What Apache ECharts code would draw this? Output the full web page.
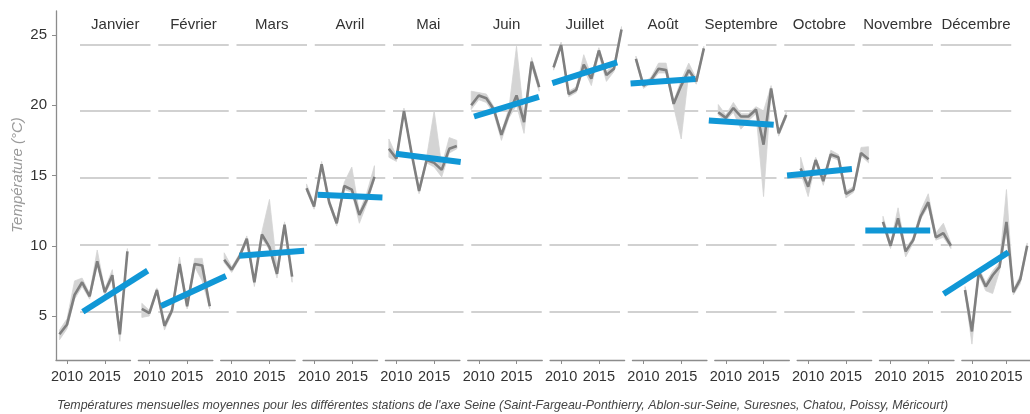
<!DOCTYPE html>
<html>
<head>
<meta charset="utf-8">
<script src="https://cdn.jsdelivr.net/npm/echarts@6/dist/echarts.min.js"></script>
<style>
html,body{margin:0;padding:0;background:#fff;}
#chart{width:1030px;height:414px;}
</style>
</head>
<body>
<div id="chart"></div>
<script>
const months = ['Janvier','Février','Mars','Avril','Mai','Juin','Juillet','Août','Septembre','Octobre','Novembre','Décembre'];
const years = [2009,2010,2011,2012,2013,2014,2015,2016,2017,2018];
const yTicks = [5,10,15,20,25];
const xTicks = [2010,2015];

const meanT = [
  [3.7,4.4,6.5,7.4,6.4,8.9,6.7,7.9,3.7,9.6],
  [5.5,5.2,6.85,4.3,5.4,8.7,5.7,8.7,8.6,5.7],
  [9.0,8.3,9.2,10.5,7.4,10.8,9.9,8.0,11.5,7.8],
  [14.1,12.8,15.8,13.1,11.6,14.25,14.0,12.2,13.3,14.9],
  [16.9,16.2,19.6,16.6,13.9,16.1,15.9,15.4,16.9,17.1],
  [20.0,20.7,20.5,19.7,17.9,19.4,20.7,18.8,23.1,21.3],
  [22.7,24.3,20.8,21.1,22.9,21.9,23.9,22.15,22.6,25.4],
  [23.3,21.4,21.8,22.6,22.5,20.1,21.4,22.5,21.7,24.05],
  [19.5,19.1,19.8,19.2,19.2,19.7,17.2,21.2,18.0,19.3],
  [15.5,14.2,16.1,14.6,16.5,16.3,13.7,14.0,16.6,16.15],
  [11.7,10.0,11.95,9.6,10.4,12.1,13.1,10.6,10.9,10.0],
  [6.85,3.9,8.15,7.1,7.9,8.5,11.7,6.7,7.6,10.0]
];
const minT = [
  [3.3,4.1,6.2,7.1,6.2,8.6,6.5,7.6,3.2,9.5],
  [4.9,5.0,6.7,4.0,5.2,8.4,5.5,8.5,7.5,5.5],
  [8.8,8.1,9.0,10.3,7.1,10.5,9.7,7.7,11.0,7.4],
  [13.9,12.6,15.6,12.9,11.4,14.0,13.8,11.6,13.0,14.7],
  [16.3,16.0,19.4,16.4,13.7,15.9,15.6,14.9,16.6,16.9],
  [19.7,20.4,20.2,19.4,17.5,19.1,20.0,18.0,22.8,21.0],
  [22.5,24.1,20.6,20.9,22.6,21.4,23.6,21.7,22.4,25.2],
  [23.1,21.2,21.6,22.3,22.3,19.9,17.6,22.3,21.5,23.9],
  [19.3,18.9,19.5,18.3,18.9,19.4,13.5,21.0,17.8,19.1],
  [15.2,13.5,15.9,14.3,16.3,16.1,13.4,13.8,16.4,15.9],
  [11.5,9.8,11.7,9.2,10.2,11.9,12.8,10.4,10.6,9.8],
  [6.6,3.0,7.9,6.8,6.6,8.2,11.0,6.5,7.3,9.8]
];
const maxT = [
  [4.0,4.8,7.5,7.7,6.6,9.7,6.9,8.3,3.9,9.8],
  [5.9,5.4,7.0,4.5,5.6,9.2,5.9,9.1,9.1,5.8],
  [9.5,8.5,9.4,10.7,7.6,11.0,13.3,8.4,11.7,8.0],
  [14.4,13.0,16.0,13.3,11.8,14.5,15.6,12.4,13.8,15.7],
  [17.6,16.4,19.8,16.8,14.1,16.3,19.6,15.7,17.7,17.5],
  [21.0,20.9,20.8,19.9,18.1,19.8,24.2,19.1,23.4,21.6],
  [22.9,24.5,21.0,21.3,23.6,22.1,24.1,22.4,22.9,25.6],
  [23.5,21.6,22.0,23.0,23.0,20.3,21.8,23.0,21.9,24.2],
  [20.05,19.3,20.2,19.4,19.4,19.9,19.6,21.4,18.2,19.5],
  [16.3,14.4,16.3,14.8,16.8,16.5,13.9,14.2,17.0,17.05],
  [12.1,10.2,12.7,9.8,10.6,12.5,13.7,10.9,11.6,10.2],
  [7.1,4.3,8.4,7.4,8.2,8.8,14.0,6.9,7.9,10.2]
];
const trendStart = [5.0,5.43,9.19,13.74,16.81,19.6,22.1,22.06,19.3,15.19,11.07,6.33];
const trendEnd   = [8.07,7.67,9.55,13.54,16.19,21.06,23.65,22.4,18.98,15.67,11.07,9.45];

const FONT = 'Liberation Sans';
const grids = [], xAxes = [], yAxes = [], series = [];

function bandRender(params, api) {
  if (params.dataIndexInside !== 0) return null;
  const n = params.dataInsideLength;
  const upper = [], lower = [];
  for (let k = 0; k < n; k++) {
    upper.push(api.coord([api.value(0, k), api.value(2, k)]));
    lower.push(api.coord([api.value(0, k), api.value(1, k)]));
  }
  return {
    type: 'polygon',
    shape: {points: upper.concat(lower.reverse())},
    style: {fill: '#d4d4d4', stroke: '#d4d4d4', lineWidth: 0.8}
  };
}

for (let i = 0; i < 12; i++) {
  grids.push({left: 56 + i * 82.35, top: 11, width: 74.5, height: 349});
  const gd = grids.length - 1;
  xAxes.push({
    type: 'value', gridIndex: gd, min: 2008.54, max: 2018.41,
    axisLine: {show: true, lineStyle: {color: '#8c8c8c', width: 1.3}},
    axisTick: {show: true, customValues: xTicks, length: 4, lineStyle: {color: '#8c8c8c'}},
    axisLabel: {show: true, customValues: xTicks, formatter: v => String(v), hideOverlap: false,
                showMinLabel: true, showMaxLabel: true,
                color: '#333', fontFamily: FONT, fontSize: 14.5, margin: 9},
    splitLine: {show: false}
  });
  yAxes.push({
    type: 'value', gridIndex: gd, min: 1.868, max: 26.71,
    axisLine: {show: i === 0, lineStyle: {color: '#8c8c8c', width: 1.3}},
    axisTick: {show: i === 0, customValues: yTicks, length: 4, lineStyle: {color: '#8c8c8c'}},
    axisLabel: {show: i === 0, customValues: yTicks, color: '#333', fontFamily: FONT, fontSize: 15, margin: 9},
    splitLine: {show: false}
  });
  grids.push({left: 80 + i * 78.25, top: 44.3, width: 70.5, height: 267.4});
  const gc = grids.length - 1;
  xAxes.push({
    type: 'value', gridIndex: gc, min: 0, max: 1, position: 'top',
    name: months[i], nameLocation: 'middle', nameGap: 12,
    nameTextStyle: {color: '#333', fontFamily: FONT, fontSize: 15},
    axisLine: {show: false}, axisTick: {show: false}, axisLabel: {show: false}, splitLine: {show: false}
  });
  yAxes.push({
    type: 'value', gridIndex: gc, min: 5, max: 25, interval: 5,
    axisLine: {show: false}, axisTick: {show: false}, axisLabel: {show: false},
    splitLine: {show: true, lineStyle: {color: '#c2c2c2', width: 1.5}}
  });

  series.push({
    type: 'custom', xAxisIndex: gd, yAxisIndex: gd,
    data: years.map((y, k) => [y, minT[i][k], maxT[i][k]]),
    renderItem: bandRender, silent: true, z: 1, clip: true
  });
  series.push({
    type: 'line', xAxisIndex: gd, yAxisIndex: gd,
    data: years.map((y, k) => [y, meanT[i][k]]),
    symbol: 'none', lineStyle: {color: '#7f7f7f', width: 2.6}, z: 3
  });
  series.push({
    type: 'line', xAxisIndex: gc, yAxisIndex: gc,
    data: [[0.04, trendStart[i]], [0.96, trendEnd[i]]],
    symbol: 'none', lineStyle: {color: '#1097d6', width: 6, cap: 'butt'}, z: 4
  });
}

const chart = echarts.init(document.getElementById('chart'), null, {renderer: 'canvas'});
chart.setOption({
  animation: false,
  backgroundColor: '#fff',
  grid: grids, xAxis: xAxes, yAxis: yAxes, series: series,
  graphic: [
    {type: 'text', x: 18, y: 175, rotation: Math.PI / 2,
     style: {text: 'Température (°C)', fill: '#9a9a9a', font: 'italic 15px "Liberation Sans"', align: 'center', verticalAlign: 'middle'}},
    {type: 'text', x: 57, y: 406,
     style: {text: "Températures mensuelles moyennes pour les différentes stations de l'axe Seine (Saint-Fargeau-Ponthierry, Ablon-sur-Seine, Suresnes, Chatou, Poissy, Méricourt)",
             fill: '#444', font: 'italic 12.4px "Liberation Sans"', align: 'left', verticalAlign: 'middle'}}
  ]
});
</script>
</body>
</html>
